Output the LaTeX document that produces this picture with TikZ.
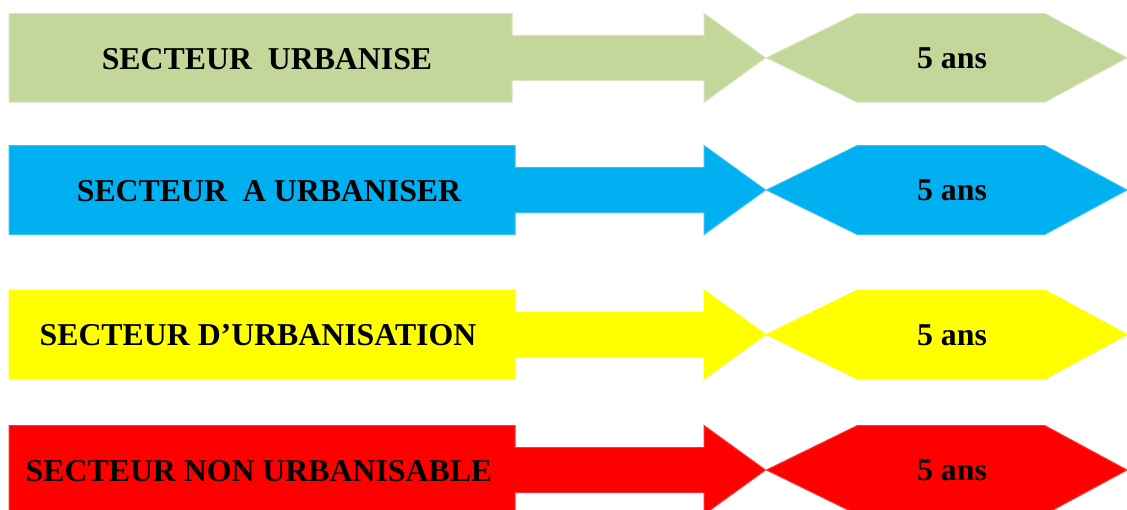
\documentclass[tikz,border=0pt]{standalone}
\usepackage{fontspec}
\setmainfont{Liberation Serif}
\definecolor{cgreen}{HTML}{C4D79B}
\definecolor{cgreenl}{HTML}{D8E4BC}
\definecolor{cblue}{HTML}{00B0F0}
\definecolor{cbluel}{HTML}{33C0F3}
\definecolor{cyel}{HTML}{FFFF00}
\definecolor{cred}{HTML}{FF0000}
\definecolor{credl}{HTML}{FF3333}
\tikzset{
  lbl/.style={font=\bfseries\fontsize{31.8}{37}\selectfont, text=black, inner sep=0pt, anchor=center},
  shp/.style={line width=1pt, line join=miter}
}
\begin{document}
\begin{tikzpicture}[x=1pt,y=-1pt]
\useasboundingbox (0,0) rectangle (1127,509);
\clip (0,0) rectangle (1127,509);
\foreach \n/\cy/\bx/\fc/\dc/\tx/\txt in {
  a/57.8/512/cgreen/cgreenl/267/{SECTEUR\ \ URBANISE},
  b/190/515/cblue/cbluel/269/{SECTEUR\ \ A URBANISER},
  c/334.5/515/cyel/cyel/258/{SECTEUR D’URBANISATION},
  d/470/515/cred/credl/259/{SECTEUR NON URBANISABLE}}{
  % box with arrow
  \fill[shp, fill=\fc, draw=\dc]
    (9,\cy-44.3) -- (\bx,\cy-44.3) -- (\bx,\cy-22.5) -- (704,\cy-22.5)
    -- (704,\cy-44.5) -- (765.5,\cy) -- (704,\cy+44.5) -- (704,\cy+22.5)
    -- (\bx,\cy+22.5) -- (\bx,\cy+44.3) -- (9,\cy+44.3) -- cycle;
  % hexagon
  \fill[shp, fill=\fc, draw=\dc]
    (766.5,\cy) -- (857,\cy-44.3) -- (1045,\cy-44.3) -- (1127,\cy)
    -- (1045,\cy+44.3) -- (857,\cy+44.3) -- cycle;
  \node[lbl] (s\n) at (\tx,\cy+1) {\txt};
  \node[lbl] (y\n) at (952,\cy+0.5) {5 ans};
}
\end{tikzpicture}
\end{document}
